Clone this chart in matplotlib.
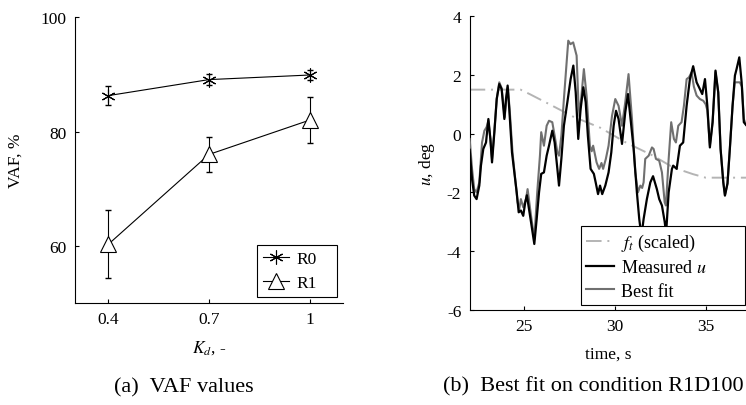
import matplotlib
matplotlib.use("Agg")
import matplotlib.pyplot as plt

plt.rcParams["font.family"] = ["Liberation Serif", "DejaVu Serif"]
plt.rcParams["mathtext.fontset"] = "stix"
plt.rcParams["axes.unicode_minus"] = False

# ---- (a) VAF values ----
kd = [0.4, 0.7, 1.0]
vaf_r0 = [86.3, 89.1, 89.9]
err_r0 = [1.7, 0.9, 0.9]
vaf_r1 = [60.3, 76.0, 82.0]
err_r1 = [6.0, 3.0, 4.0]

# ---- (b) best fit on condition R1D100 ----
t_meas = [22.0, 22.13, 22.25, 22.38, 22.53, 22.62, 22.75, 22.9, 23.03, 23.14,
          23.23, 23.36, 23.49, 23.63, 23.76, 23.91, 24.0, 24.09, 24.18, 24.33,
          24.46, 24.59, 24.7, 24.82, 24.95, 25.06, 25.15, 25.25, 25.38, 25.56,
          25.69, 25.82, 25.94, 26.09, 26.24, 26.37, 26.55, 26.68, 26.83, 26.92,
          27.05, 27.19, 27.38, 27.56, 27.71, 27.84, 27.98, 28.11, 28.26, 28.39,
          28.51, 28.66, 28.84, 28.94, 29.07, 29.18, 29.3, 29.47, 29.65, 29.8,
          29.93, 30.06, 30.2, 30.39, 30.57, 30.72, 30.9, 31.03, 31.21, 31.34,
          31.46, 31.58, 31.76, 31.95, 32.1, 32.31, 32.44, 32.59, 32.74, 32.82,
          32.96, 33.14, 33.21, 33.4, 33.58, 33.76, 33.95, 34.13, 34.31, 34.5,
          34.68, 34.81, 34.96, 35.09, 35.23, 35.38, 35.54, 35.69, 35.82, 35.97,
          36.06, 36.2, 36.33, 36.48, 36.61, 36.7, 36.85, 36.98, 37.1, 37.22]
u_meas = [-0.55, -1.55, -2.11, -2.23, -1.77, -1.09, -0.52, -0.3, 0.5, -0.18,
          -0.98, 0.05, 1.18, 1.69, 1.52, 0.5, 1.18, 1.64, 0.84, -0.64,
          -1.32, -2.0, -2.68, -2.62, -2.8, -2.34, -2.1, -2.5, -3.02, -3.76,
          -2.91, -2.0, -1.37, -1.32, -0.75, -0.41, 0.1, -0.3, -1.2, -1.77,
          -0.86, 0.27, 1.07, 1.86, 2.32, 1.41, -0.18, 0.84, 1.58, 1.07,
          -0.07, -1.2, -1.37, -1.66, -2.06, -1.77, -2.06, -1.77, -1.32, -0.64,
          0.27, 0.78, 0.5, -0.35, 0.73, 1.35, 0.27, -0.52, -2.0, -2.91,
          -3.5, -2.91, -2.23, -1.66, -1.45, -1.89, -2.23, -2.45, -3.0, -3.4,
          -2.0, -1.2, -1.09, -1.2, -0.41, -0.3, 0.95, 1.86, 2.3, 1.75,
          1.52, 1.35, 1.86, 0.95, -0.47, 0.39, 2.15, 1.41, -0.52, -1.66,
          -2.11, -1.7, -0.52, 0.95, 1.98, 2.2, 2.6, 1.75, 0.39, 0.3]

t_fit = [22.0, 22.13, 22.25, 22.38, 22.53, 22.68, 22.81, 22.93, 23.03, 23.14,
         23.23, 23.36, 23.49, 23.63, 23.76, 23.93, 24.02, 24.1, 24.2, 24.36,
         24.5, 24.64, 24.73, 24.82, 24.95, 25.1, 25.19, 25.38, 25.56, 25.72,
         25.87, 25.94, 26.09, 26.24, 26.37, 26.55, 26.68, 26.83, 26.92, 27.05,
         27.19, 27.34, 27.43, 27.55, 27.7, 27.89, 27.98, 28.05, 28.29, 28.44,
         28.62, 28.72, 28.8, 28.99, 29.13, 29.26, 29.35, 29.5, 29.65, 29.84,
         30.02, 30.2, 30.39, 30.57, 30.75, 30.94, 31.12, 31.27, 31.4, 31.5,
         31.58, 31.67, 31.86, 32.04, 32.13, 32.26, 32.44, 32.59, 32.74, 32.81,
         32.96, 33.1, 33.25, 33.36, 33.49, 33.67, 33.8, 33.95, 34.08, 34.22,
         34.35, 34.5, 34.68, 34.87, 35.0, 35.09, 35.23, 35.38, 35.54, 35.69,
         35.82, 35.97, 36.06, 36.2, 36.33, 36.48, 36.6, 36.7, 36.88, 37.0,
         37.1, 37.22]
u_fit = [-0.18, -1.2, -1.89, -2.0, -1.66, -0.3, 0.1, 0.22, 0.44, -0.18,
         -0.86, 0.1, 1.2, 1.75, 1.55, 0.56, 1.2, 1.58, 0.84, -0.64,
         -1.5, -2.34, -2.57, -2.23, -2.51, -2.23, -1.89, -2.8, -3.59, -2.0,
         -0.75, 0.05, -0.41, 0.27, 0.44, 0.39, -0.07, -0.64, -0.75, -0.07,
         1.18, 2.43, 3.17, 3.05, 3.11, 2.66, 1.18, 0.6, 2.2, 1.29,
         -0.41, -0.6, -0.41, -0.98, -1.2, -1.0, -1.2, -0.86, -0.41, 0.61,
         1.18, 0.95, 0.27, 1.07, 2.03, 0.5, -1.32, -2.0, -1.77, -1.85,
         -1.66, -0.86, -0.75, -0.47, -0.52, -0.86, -0.92, -1.32, -2.34, -2.45,
         -0.86, 0.39, -0.18, -0.3, 0.27, 0.39, 0.95, 1.86, 1.92, 2.09,
         1.6, 1.3, 1.18, 1.12, 1.0, 0.8, -0.4, 0.39, 2.1, 1.41,
         -0.52, -1.66, -2.1, -1.7, -0.52, 0.95, 1.75, 1.75, 1.75, 1.6,
         0.5, 0.3]

t_ft = [22.0, 24.8, 25.3, 26.4, 27.7, 29.2, 30.6, 32.1, 33.2, 34.3, 35.0, 37.22]
f_t = [1.5, 1.5, 1.35, 1.0, 0.58, 0.2, -0.3, -0.75, -1.15, -1.38, -1.5, -1.5]

FS = 12.5

fig = plt.figure(figsize=(7.46, 4.06), dpi=100)

def style_axes(ax):
    for side in ("top", "right"):
        ax.spines[side].set_visible(False)
    for side in ("left", "bottom"):
        ax.spines[side].set_linewidth(0.8)
    ax.tick_params(direction="in", length=3, width=0.8, labelsize=FS, pad=6)

# (a)
ax1 = fig.add_axes([0.1005, 0.2512, 0.3593, 0.7037])
ax1.errorbar(kd, vaf_r0, yerr=err_r0, fmt="none", ecolor="black",
             elinewidth=0.8, capsize=2)
ax1.errorbar(kd, vaf_r1, yerr=err_r1, fmt="none", ecolor="black",
             elinewidth=0.8, capsize=2)
ax1.plot(kd, vaf_r0, color="black", lw=0.8, marker=(6, 2, 0), ms=10,
         mew=0.8, label="R0")
ax1.plot(kd, vaf_r1, color="black", lw=0.8, marker="^", ms=12, mew=0.8,
         mfc="white", label="R1")
ax1.set_xlim(0.3, 1.1)
ax1.set_ylim(50, 100)
ax1.set_xticks(kd)
ax1.set_xticklabels(["0.4", "0.7", "1"])
ax1.set_yticks([60, 80, 100])
ax1.set_xlabel("$K_d$, -", fontsize=FS, labelpad=8)
ax1.set_ylabel("VAF, %", fontsize=FS, labelpad=12)
style_axes(ax1)
leg1 = ax1.legend(loc="lower left", bbox_to_anchor=(0.679, 0.021, 0.2985, 0.2),
                  mode="expand", fontsize=FS, frameon=True, fancybox=False,
                  edgecolor="black", framealpha=1, handlelength=1.5,
                  borderaxespad=0, borderpad=0.35, labelspacing=0.45,
                  handletextpad=0.4)
leg1.get_frame().set_linewidth(0.8)

# (b)
ax2 = fig.add_axes([0.6296, 0.2347, 0.3704, 0.7227])
ax2.plot(t_ft, f_t, color="#b4b4b4", lw=1.4, dashes=(8, 3, 1, 3),
         label="$f_t$ (scaled)", zorder=2)
ax2.plot(t_fit, u_fit, color="#707070", lw=1.5, label="Best fit", zorder=3)
ax2.plot(t_meas, u_meas, color="black", lw=1.6, label="Measured $u$", zorder=4)
ax2.set_xlim(22, 37.22)
ax2.set_ylim(-6, 4)
ax2.set_xticks([25, 30, 35])
ax2.set_yticks([-6, -4, -2, 0, 2, 4])
ax2.set_xlabel("time, s", fontsize=FS, labelpad=8)
ax2.set_ylabel("$u$, deg", fontsize=FS, labelpad=7)
style_axes(ax2)
h, l = ax2.get_legend_handles_labels()
order = [0, 2, 1]
leg2 = ax2.legend([h[i] for i in order], [l[i] for i in order],
                  loc="lower left", bbox_to_anchor=(0.403, 0.016, 0.594, 0.3),
                  mode="expand", fontsize=FS + 0.5, frameon=True,
                  fancybox=False, edgecolor="black", framealpha=1,
                  handlelength=1.5, borderaxespad=0, borderpad=0.3,
                  labelspacing=0.35, handletextpad=0.4)
leg2.get_frame().set_linewidth(0.8)
leg2.set_zorder(10)

# captions
fig.text(0.247, 0.045, "(a)  VAF values", ha="center", va="center", fontsize=16)
fig.text(0.795, 0.047, "(b)  Best fit on condition R1D100", ha="center",
         va="center", fontsize=16)

fig.savefig("out.png", dpi=100)
